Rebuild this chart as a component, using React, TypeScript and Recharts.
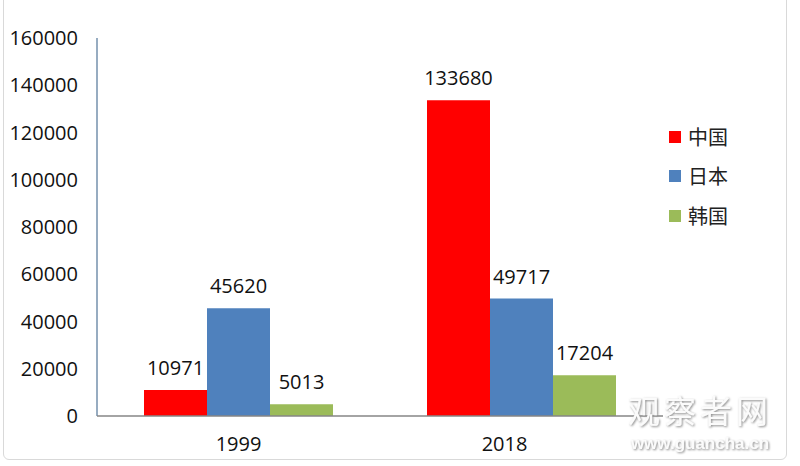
import React from 'react';
import { BarChart, Bar, XAxis, YAxis, LabelList } from 'recharts';

const categories = ['1999', '2018'];
const china = [10971, 133680];
const japan = [45620, 49717];
const korea = [5013, 17204];
const yTicks = [0, 20000, 40000, 60000, 80000, 100000, 120000, 140000, 160000];
const seriesNames = ['中国', '日本', '韩国'];
const seriesKeys = ['china', 'japan', 'korea'];
const seriesColors = ['#FF0000', '#4F81BD', '#9BBB59'];

const data = categories.map((c, i) => ({
  year: c,
  china: china[i],
  japan: japan[i],
  korea: korea[i],
}));

const NUM_FONT = '"Open Sans", "Liberation Sans", sans-serif';
const CJK_FONT = '"Noto Sans CJK SC", sans-serif';

const XTick = (props: any) => {
  const { x, y, payload, index } = props;
  const shift = index === 1 ? -17 : 0;
  return (
    <text
      x={x + shift}
      y={y}
      dy="0.71em"
      textAnchor="middle"
      fill="#111"
      fontSize={20}
      fontFamily={NUM_FONT}
    >
      {payload.value}
    </text>
  );
};

export default function App() {
  return (
    <div
      style={{
        position: 'absolute',
        left: 0,
        top: 0,
        width: 800,
        height: 466,
        background: '#fff',
        overflow: 'hidden',
      }}
    >
      <div
        style={{
          position: 'absolute',
          left: 3,
          top: -6,
          width: 784,
          height: 466,
          border: '1px solid #d9d9d9',
          borderRadius: 6,
          boxSizing: 'border-box',
        }}
      />
      <BarChart
        width={800}
        height={466}
        data={data}
        margin={{ top: 38, right: 137, bottom: 0, left: 0 }}
        barCategoryGap={47}
        barGap={0}
      >
        <YAxis
          width={97}
          domain={[0, 160000]}
          ticks={yTicks}
          interval={0}
          tickLine={false}
          tickSize={0}
          tickMargin={19}
          axisLine={{ stroke: '#7590AC', strokeWidth: 1.5 }}
          tick={{ fill: '#111', fontSize: 20, fontFamily: NUM_FONT }}
        />
        <XAxis
          dataKey="year"
          height={50}
          tickLine={false}
          tickSize={0}
          tickMargin={21}
          axisLine={{ stroke: '#868686', strokeWidth: 1.5 }}
          tick={<XTick />}
        />
        {seriesKeys.map((k, i) => (
          <Bar
            key={k}
            dataKey={k}
            name={seriesNames[i]}
            fill={seriesColors[i]}
            isAnimationActive={false}
          >
            <LabelList
              dataKey={k}
              position="top"
              offset={15}
              fill="#111"
              fontSize={20}
              fontFamily={NUM_FONT}
            />
          </Bar>
        ))}
      </BarChart>
      <div style={{ position: 'absolute', left: 669, top: 117, width: 110 }}>
        {seriesNames.map((name, i) => (
          <div
            key={name}
            style={{ display: 'flex', alignItems: 'center', height: 39.5 }}
          >
            <span
              style={{
                display: 'inline-block',
                width: 12,
                height: 12,
                background: seriesColors[i],
                marginRight: 7,
              }}
            />
            <span
              style={{
                fontFamily: CJK_FONT,
                fontSize: 20,
                color: '#222',
                lineHeight: '20px',
              }}
            >
              {name}
            </span>
          </div>
        ))}
      </div>
      <svg
        width={800}
        height={466}
        style={{ position: 'absolute', left: 0, top: 0, pointerEvents: 'none' }}
      >
        <defs>
          <filter id="emboss" x="-10%" y="-20%" width="120%" height="140%">
            <feDropShadow dx="1" dy="1" stdDeviation="1" floodColor="#8a8a8a" />
          </filter>
        </defs>
        <text
          x={700}
          y={423}
          textAnchor="middle"
          fontFamily={CJK_FONT}
          fontSize={32}
          letterSpacing={4}
          fill="#fbfbfb"
          filter="url(#emboss)"
        >
          观察者网
        </text>
        <text
          x={700}
          y={449}
          textAnchor="middle"
          fontFamily='"Liberation Sans", sans-serif'
          fontWeight="bold"
          fontSize={17}
          fill="#fbfbfb"
          filter="url(#emboss)"
        >
          www.guancha.cn
        </text>
      </svg>
    </div>
  );
}
